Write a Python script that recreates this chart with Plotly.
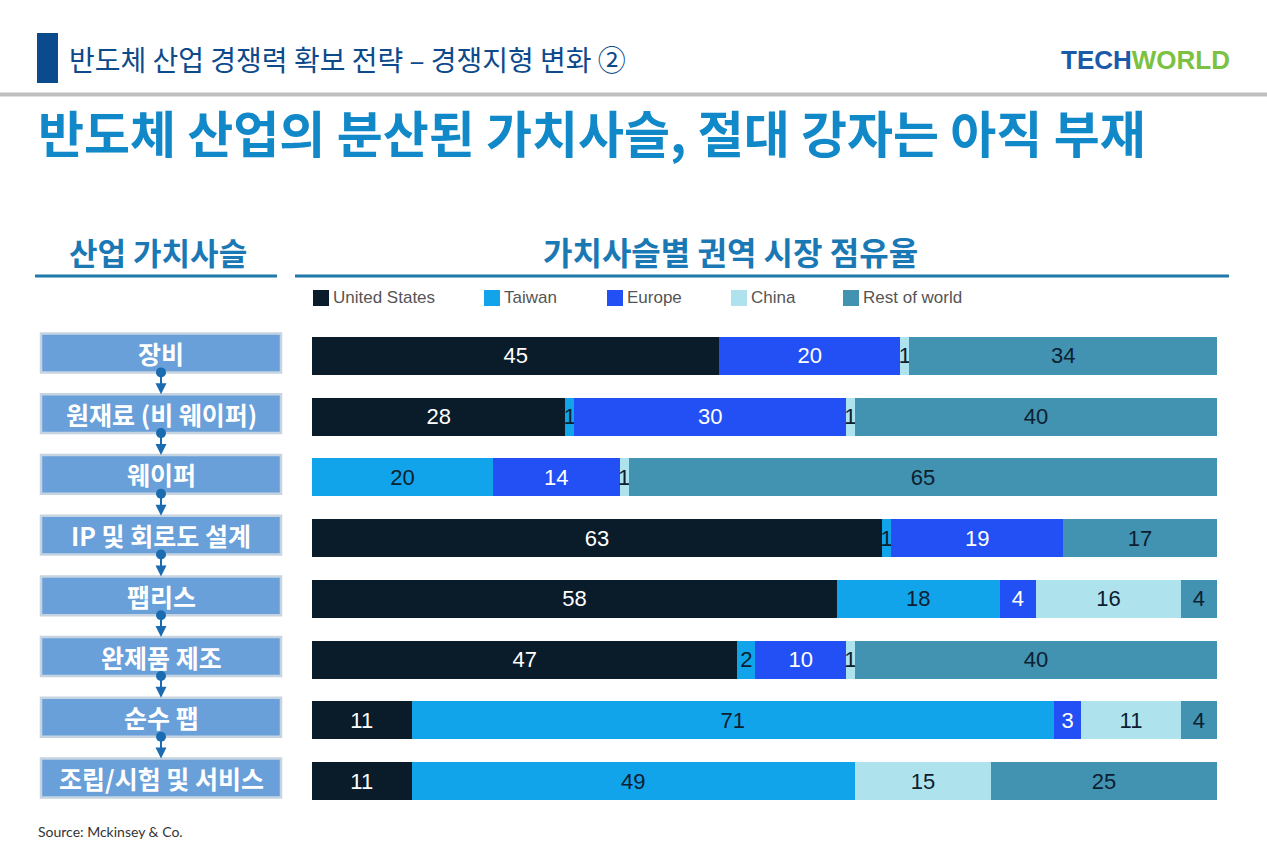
import plotly.graph_objects as go

W, H = 1267, 853

categories = ["장비", "원재료 (비 웨이퍼)", "웨이퍼", "IP 및 회로도 설계", "팹리스", "완제품 제조", "순수 팹", "조립/시험 및 서비스"]
regions = ["United States", "Taiwan", "Europe", "China", "Rest of world"]
us = [45, 28, 0, 63, 58, 47, 11, 11]
taiwan = [0, 1, 20, 1, 18, 2, 71, 49]
europe = [20, 30, 14, 19, 4, 10, 3, 0]
china = [1, 1, 1, 0, 16, 1, 11, 15]
rest = [34, 40, 65, 17, 4, 40, 4, 25]
series = [us, taiwan, europe, china, rest]

colors = ["#0a1b2a", "#12a4ea", "#2350f5", "#aee3ee", "#4193b1"]
text_colors = ["#ffffff", "#0c2030", "#ffffff", "#0c2030", "#0c2030"]

def px(x):
    return x / W

def py(y):
    return 1 - y / H

fig = go.Figure()
for name, vals, c, tc in zip(regions, series, colors, text_colors):
    fig.add_trace(go.Bar(
        y=categories, x=vals, name=name, orientation="h",
        marker=dict(color=c, line=dict(width=0)),
        text=[str(v) if v else "" for v in vals],
        textposition="inside", insidetextanchor="middle",
        constraintext="none", textangle=0,
        textfont=dict(family="Liberation Sans, Arial", size=22, color=tc),
        hoverinfo="skip", showlegend=False,
    ))

shapes = []
annotations = []

# header
shapes.append(dict(type="rect", xref="paper", yref="paper", x0=px(37), x1=px(58), y0=py(83), y1=py(33),
                   fillcolor="#0b4a8c", line=dict(width=0)))
annotations.append(dict(xref="paper", yref="paper", x=px(67), y=py(59), xanchor="left", yanchor="middle",
                        text="반도체 산업 경쟁력 확보 전략 – 경쟁지형 변화 ②", showarrow=False,
                        font=dict(family="Noto Sans CJK KR", size=28, color="#0d4a8c")))
shapes.append(dict(type="line", xref="paper", yref="paper", x0=0, x1=1, y0=py(94.5), y1=py(94.5),
                   line=dict(color="#bfbfbf", width=4)))
annotations.append(dict(xref="paper", yref="paper", x=px(1059), y=py(60), xanchor="left", yanchor="middle",
                        text="<b><span style='color:#1b5aa6'>TECH</span><span style='color:#7cc242'>WORLD</span></b>",
                        showarrow=False, font=dict(family="Liberation Sans, Arial", size=26)))

# title
annotations.append(dict(xref="paper", yref="paper", x=px(36), y=py(131), xanchor="left", yanchor="middle",
                        text="<b>반도체 산업의 분산된 가치사슬, 절대 강자는 아직 부재</b>", showarrow=False,
                        font=dict(family="Noto Sans CJK KR", size=50, color="#1188c8")))

# section headers
annotations.append(dict(xref="paper", yref="paper", x=px(158), y=py(251), xanchor="center", yanchor="middle",
                        text="<b>산업 가치사슬</b>", showarrow=False,
                        font=dict(family="Noto Sans CJK KR", size=31, color="#1a78b4")))
annotations.append(dict(xref="paper", yref="paper", x=px(731), y=py(251), xanchor="center", yanchor="middle",
                        text="<b>가치사슬별 권역 시장 점유율</b>", showarrow=False,
                        font=dict(family="Noto Sans CJK KR", size=32, color="#1a78b4")))
for x0, x1 in [(35, 277), (295, 1229)]:
    shapes.append(dict(type="line", xref="paper", yref="paper", x0=px(x0), x1=px(x1), y0=py(276), y1=py(276),
                       line=dict(color="#1f78aa", width=3)))

# legend (manual)
legend_x = [313, 484, 607, 731, 843]
for lx, name, c in zip(legend_x, regions, colors):
    shapes.append(dict(type="rect", xref="paper", yref="paper", x0=px(lx), x1=px(lx + 16), y0=py(306), y1=py(290),
                       fillcolor=c, line=dict(width=0)))
    annotations.append(dict(xref="paper", yref="paper", x=px(lx + 18), y=py(298), xanchor="left", yanchor="middle",
                            text=name, showarrow=False,
                            font=dict(family="Liberation Sans, Arial", size=17, color="#555555")))

# left value-chain boxes
for i, cat in enumerate(categories):
    shapes.append(dict(type="rect", xref="paper", yref="y", x0=px(41), x1=px(281), y0=i - 0.37, y1=i + 0.27,
                       fillcolor="#6aa0d9", line=dict(color="#c6d3e0", width=2.5), layer="below"))
    annotations.append(dict(xref="paper", yref="y", x=px(161), y=i - 0.05, xanchor="center", yanchor="middle",
                            text="<b>" + cat + "</b>", showarrow=False,
                            font=dict(family="Noto Sans CJK KR", size=25, color="#ffffff")))
    if i < len(categories) - 1:
        shapes.append(dict(type="circle", xref="paper", yref="y", xsizemode="pixel", ysizemode="pixel",
                           xanchor=px(161), yanchor=i + 0.27, x0=-5, x1=5, y0=-5, y1=5,
                           fillcolor="#1a6bb0", line=dict(width=0)))
        annotations.append(dict(xref="paper", yref="y", x=px(161), y=i + 0.63, ax=0, ay=-21,
                                showarrow=True, arrowhead=2, arrowsize=1.1, arrowwidth=2,
                                arrowcolor="#1a6bb0", text=""))

# source
annotations.append(dict(xref="paper", yref="paper", x=px(36), y=py(831), xanchor="left", yanchor="middle",
                        text="Source: Mckinsey & Co.", showarrow=False,
                        font=dict(family="Lato, Open Sans", size=14, color="#333333")))

top_px = 356 - 60.71 / 2
bot_px = 781 + 60.71 / 2
fig.update_layout(
    width=W, height=H,
    margin=dict(l=0, r=0, t=0, b=0),
    paper_bgcolor="white", plot_bgcolor="white",
    barmode="stack", bargap=0.374,
    showlegend=False,
    xaxis=dict(domain=[px(312), px(1217)], range=[0, 100], visible=False, fixedrange=True),
    yaxis=dict(domain=[py(bot_px), py(top_px)], range=[7.5, -0.5], type="category",
               categoryorder="array", categoryarray=categories, visible=False, fixedrange=True),
    shapes=shapes, annotations=annotations,
)

fig.write_html("out.html", config={"displayModeBar": False},
               post_script="document.body.style.margin='0';document.body.style.overflow='hidden';")
